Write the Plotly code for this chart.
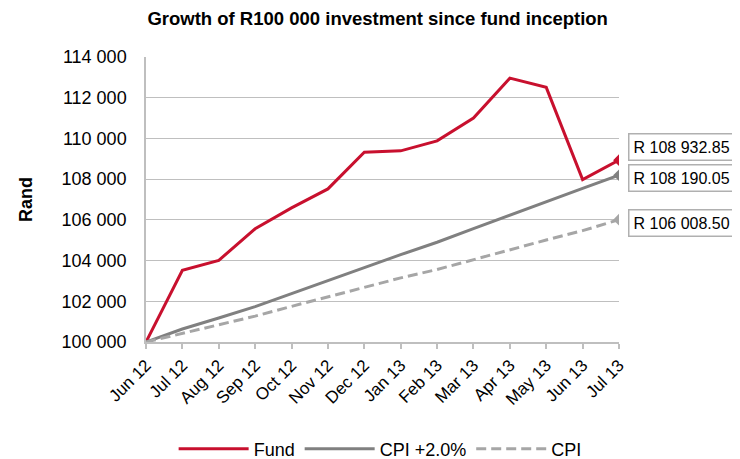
import plotly.graph_objects as go

months = ["Jun 12", "Jul 12", "Aug 12", "Sep 12", "Oct 12", "Nov 12", "Dec 12",
          "Jan 13", "Feb 13", "Mar 13", "Apr 13", "May 13", "Jun 13", "Jul 13"]
fund = [100000, 103520, 104010, 105560, 106590, 107520, 109320,
        109390, 109880, 111000, 112960, 112510, 107980, 108932.85]
cpi_plus2 = [100000, 100640, 101180, 101740, 102380, 103030, 103650,
             104290, 104900, 105570, 106230, 106910, 107550, 108190.05]
cpi = [100000, 100420, 100860, 101270, 101750, 102210, 102660,
       103150, 103560, 104050, 104550, 105010, 105470, 106008.50]

names = ["Fund", "CPI +2.0%", "CPI"]
series = [fund, cpi_plus2, cpi]
colors = ["#c8102e", "#808080", "#a6a6a6"]
dashes = ["solid", "solid", "10px,5px"]
label_shift = [13, -3, -3]

FONT = "Liberation Sans, Arial, sans-serif"

fig = go.Figure()
for name, ys, col, dsh in zip(names, series, colors, dashes):
    fig.add_trace(go.Scatter(x=months, y=ys, mode="lines", name=name,
                             line=dict(color=col, width=3, dash=dsh)))
for name, ys, col in zip(names, series, colors):
    fig.add_trace(go.Scatter(x=months[-1:], y=ys[-1:], mode="markers", showlegend=False,
                             marker=dict(symbol="diamond", size=9, color=col),
                             hoverinfo="skip"))

for ys, sh in zip(series, label_shift):
    v = ys[-1]
    txt = "R " + f"{v:,.2f}".replace(",", " ")
    fig.add_annotation(x=months[-1], y=v, xref="x", yref="y", text=txt,
                       showarrow=False, xanchor="left", yanchor="middle",
                       xshift=9, yshift=sh, align="left",
                       font=dict(family=FONT, size=16, color="#000000"),
                       bgcolor="white", bordercolor="#b0b0b0", borderwidth=1.5,
                       borderpad=4)

fig.update_layout(
    width=732, height=451,
    margin=dict(l=138, r=121, t=49, b=117),
    paper_bgcolor="white", plot_bgcolor="white",
    separators=". ",
    font=dict(family=FONT, size=18, color="#000000"),
    title=dict(text="<b>Growth of R100 000 investment since fund inception</b>",
               x=0.505, xanchor="center", y=0.976, yanchor="middle",
               font=dict(family=FONT, size=18.5, color="#000000")),
    showlegend=True,
    legend=dict(orientation="h", x=0.495, xanchor="center", yref="container",
                y=0.022, yanchor="middle", font=dict(family=FONT, size=18),
                itemwidth=70, bgcolor="rgba(0,0,0,0)"),
    xaxis=dict(type="category", range=[0, len(months) - 1], tickangle=-45,
               showgrid=False, showline=True, linecolor="#bfbfbf", linewidth=1.5,
               ticks="outside", ticklen=5, tickcolor="#bfbfbf", tickwidth=1.5,
               tickfont=dict(family=FONT, size=17), zeroline=False),
    yaxis=dict(range=[100000, 114000], dtick=2000, tickformat=",d",
               showgrid=True, gridcolor="#bfbfbf", gridwidth=1.3,
               showline=True, linecolor="#bfbfbf", linewidth=1.5,
               ticks="", ticklabelstandoff=14, zeroline=False,
               tickfont=dict(family=FONT, size=18),
               title=dict(text="<b>Rand</b>", standoff=24,
                          font=dict(family=FONT, size=18))),
)

fig.write_html("out.html")
